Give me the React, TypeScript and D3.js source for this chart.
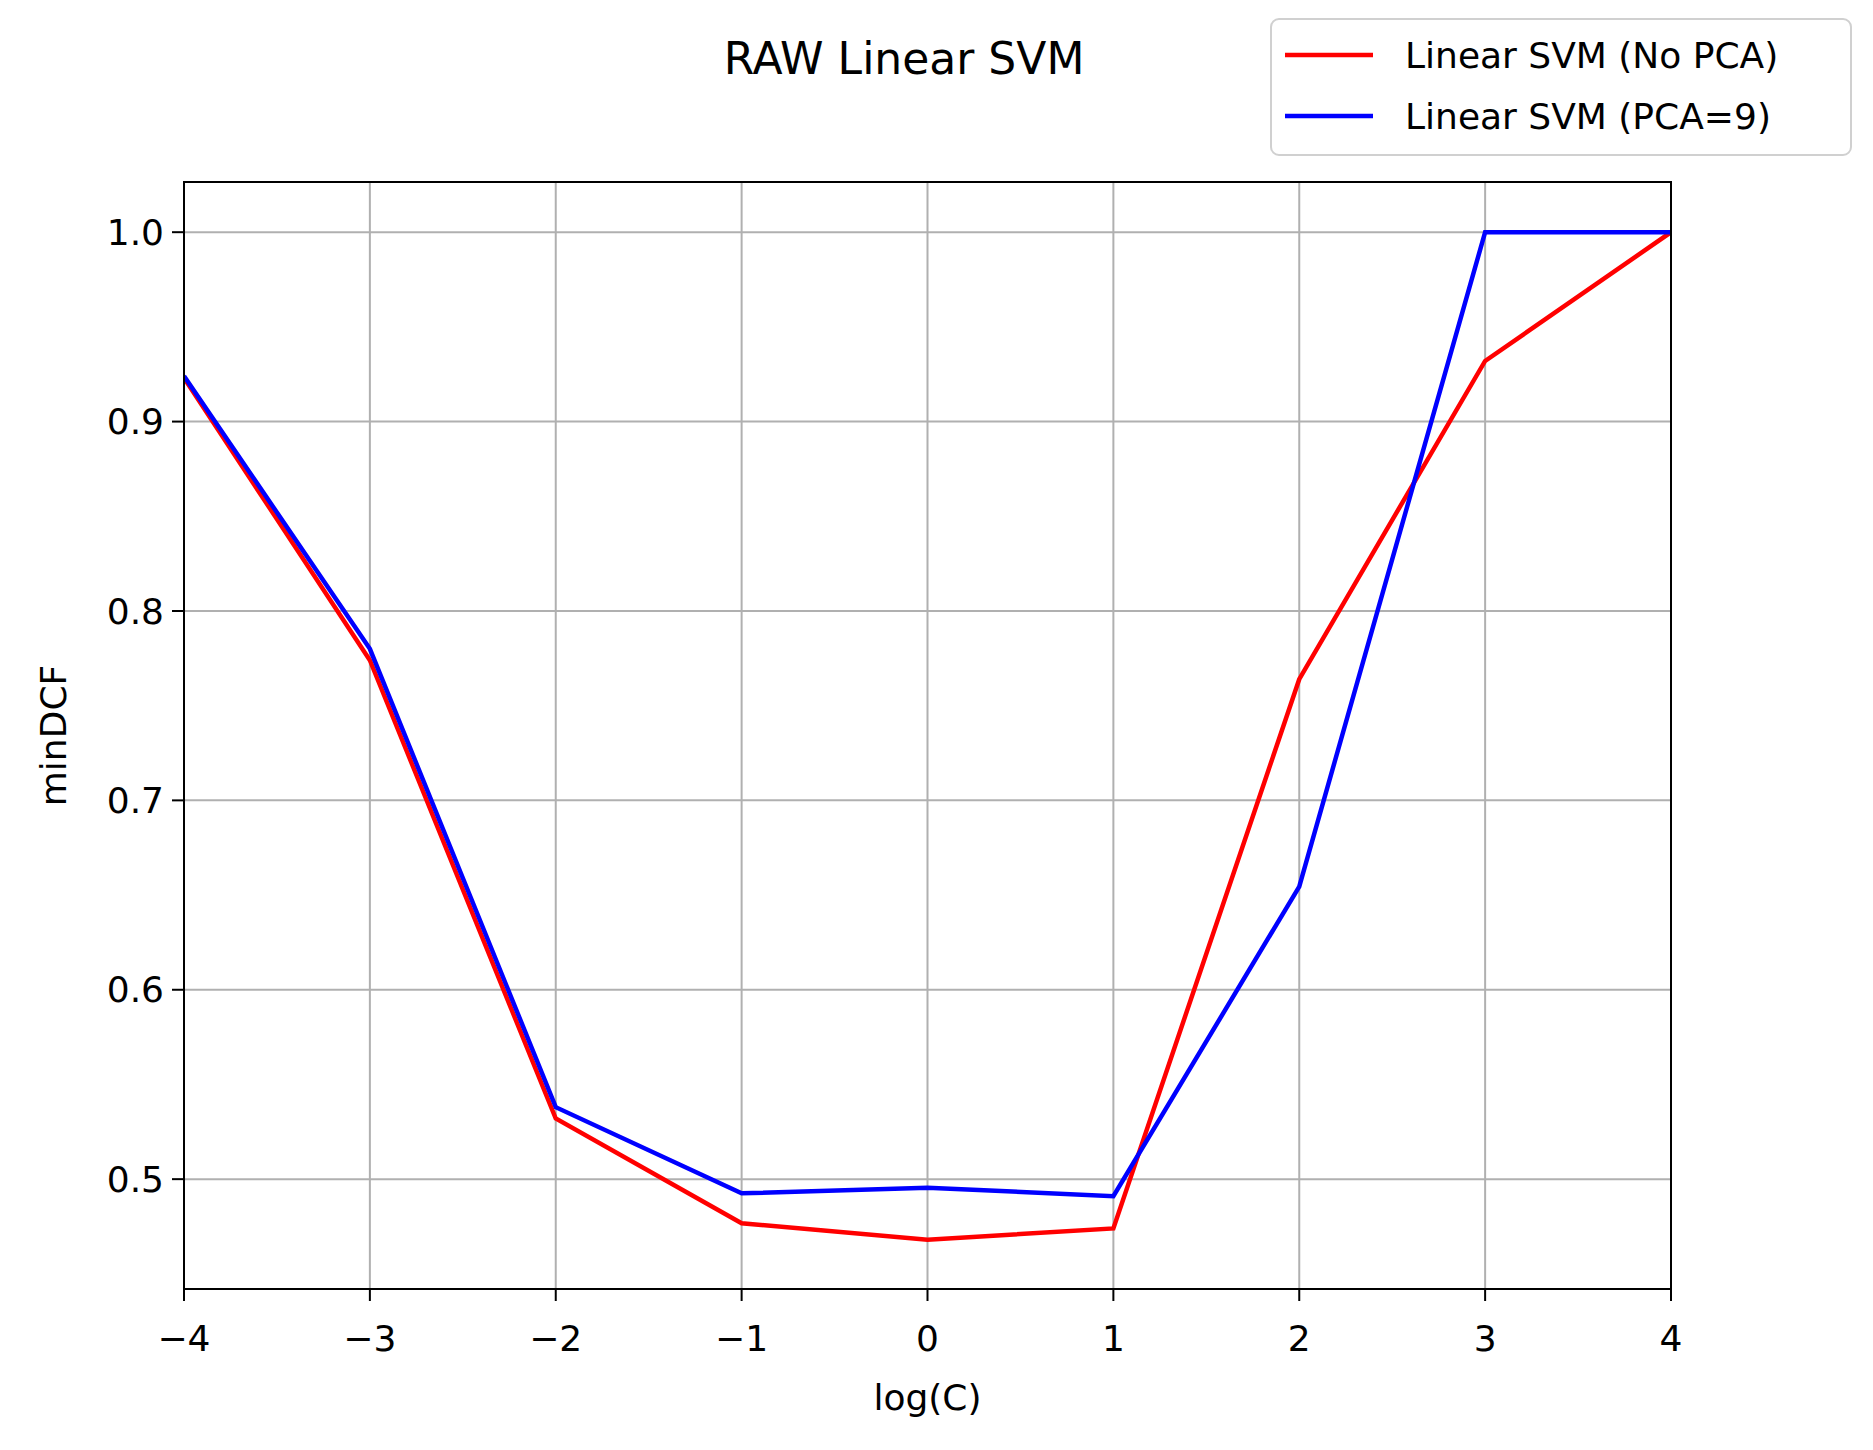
import React from 'react';
import * as d3 from 'd3';

const logC = [-4, -3, -2, -1, 0, 1, 2, 3, 4];
const noPca = [0.923, 0.774, 0.532, 0.4767, 0.468, 0.474, 0.764, 0.932, 1.0];
const pca9 = [0.924, 0.78, 0.538, 0.4925, 0.4955, 0.491, 0.6545, 1.0, 1.0];
const yTicks = [0.5, 0.6, 0.7, 0.8, 0.9, 1.0];
const series = [
  { name: 'Linear SVM (No PCA)', color: 'red', values: noPca },
  { name: 'Linear SVM (PCA=9)', color: 'blue', values: pca9 },
];

const W = 1873, H = 1450;
const m = { left: 184, right: 1671, top: 182, bottom: 1289 };
const font = 'DejaVu Sans';

const App: React.FC = () => {
  const x = d3.scaleLinear().domain([-4, 4]).range([m.left, m.right]);
  const y = d3.scaleLinear().domain([0.442, 1.0265]).range([m.bottom, m.top]);
  const line = d3.line<number>().x((_, i) => x(logC[i])).y((d) => y(d));
  return (
    <svg width={W} height={H} style={{ display: 'block', margin: -8 }} fontFamily={font}>
      <rect width={W} height={H} fill="white" />
      <defs>
        <clipPath id="pa"><rect x={m.left} y={m.top} width={m.right - m.left} height={m.bottom - m.top} /></clipPath>
      </defs>
      {logC.map((t) => (
        <line key={'gx' + t} x1={x(t)} x2={x(t)} y1={m.top} y2={m.bottom} stroke="#b0b0b0" strokeWidth={2} />
      ))}
      {yTicks.map((t) => (
        <line key={'gy' + t} x1={m.left} x2={m.right} y1={y(t)} y2={y(t)} stroke="#b0b0b0" strokeWidth={2} />
      ))}
      <g clipPath="url(#pa)">
        {series.map((s) => (
          <path key={s.name} d={line(s.values)!} fill="none" stroke={s.color} strokeWidth={4.5} />
        ))}
      </g>
      <rect x={m.left} y={m.top} width={m.right - m.left} height={m.bottom - m.top} fill="none" stroke="black" strokeWidth={2} />
      {logC.map((t) => (
        <g key={'tx' + t}>
          <line x1={x(t)} x2={x(t)} y1={m.bottom} y2={m.bottom + 12} stroke="black" strokeWidth={2} />
          <text x={x(t)} y={m.bottom + 62} textAnchor="middle" fontSize={36}>{t < 0 ? '\u2212' + -t : t}</text>
        </g>
      ))}
      {yTicks.map((t) => (
        <g key={'ty' + t}>
          <line x1={m.left - 12} x2={m.left} y1={y(t)} y2={y(t)} stroke="black" strokeWidth={2} />
          <text x={m.left - 20} y={y(t)} dy="0.35em" textAnchor="end" fontSize={36}>{t.toFixed(1)}</text>
        </g>
      ))}
      <text x={(m.left + m.right) / 2} y={1410} textAnchor="middle" fontSize={36}>log(C)</text>
      <text transform={`translate(66,${(m.top + m.bottom) / 2}) rotate(-90)`} textAnchor="middle" fontSize={36}>minDCF</text>
      <text x={904} y={74} textAnchor="middle" fontSize={44}>RAW Linear SVM</text>
      <rect x={1271} y={19} width={580} height={136} rx={8} fill="white" stroke="#d0d0d0" strokeWidth={2} />
      {series.map((s, i) => (
        <g key={'lg' + s.name}>
          <line x1={1285} x2={1373} y1={55 + i * 61} y2={55 + i * 61} stroke={s.color} strokeWidth={4.5} />
          <text x={1405} y={55 + i * 61} dy="0.35em" fontSize={36}>{s.name}</text>
        </g>
      ))}
    </svg>
  );
};

export default App;
